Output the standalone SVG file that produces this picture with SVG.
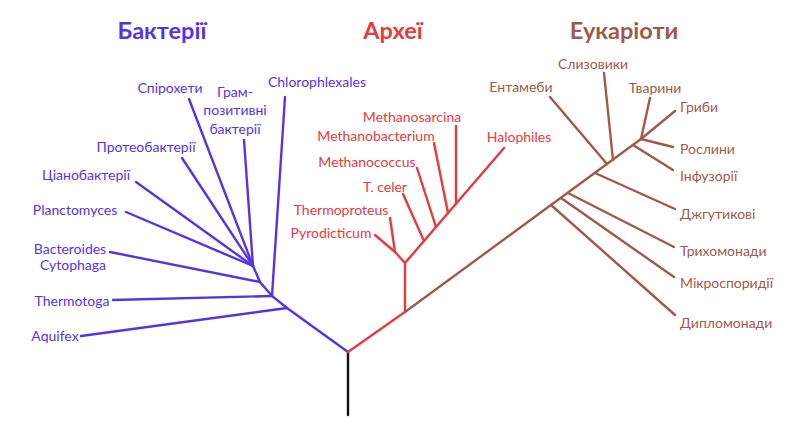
<svg xmlns="http://www.w3.org/2000/svg" width="800" height="427" viewBox="0 0 800 427">
<style>
text{font-family:Lato,"Open Sans","Liberation Sans",sans-serif;font-size:14px}
.t{font-size:23.5px;font-weight:bold;text-anchor:middle}
.b{fill:#5534e8}.r{fill:#e63a3f}.e{fill:#a0594b}
.m{text-anchor:middle}.s{text-anchor:start}
line,polyline{fill:none;stroke-width:2.4;stroke-linecap:round}
.lb line,.lb polyline{stroke:#5534e8}
.lr line,.lr polyline{stroke:#e63a3f}
.le line{stroke:#a0594b}
</style>
<rect width="800" height="427" fill="#fff"/>
<g id="connectors">
<line x1="348" y1="352" x2="348" y2="415" stroke="#111" stroke-width="2.4"/>
<g class="lb">
<polyline points="348,352 287,308 272,296 260,282 253,266"/>
<line x1="81" y1="336" x2="287" y2="308"/>
<line x1="113" y1="300" x2="272" y2="296"/>
<line x1="285" y1="97" x2="272" y2="296"/>
<line x1="110" y1="252" x2="260" y2="282"/>
<line x1="126" y1="212" x2="253" y2="266"/>
<line x1="136" y1="182" x2="253" y2="266"/>
<line x1="182" y1="158" x2="253" y2="266"/>
<line x1="189" y1="99" x2="253" y2="266"/>
<line x1="244" y1="140" x2="253" y2="266"/>
</g>
<g class="lr">
<polyline points="348,352 405,312 405,263 504,148"/>
<line x1="405" y1="263" x2="395" y2="252"/>
<line x1="390" y1="218" x2="395" y2="252"/>
<line x1="375" y1="235" x2="395" y2="252"/>
<line x1="403" y1="194" x2="424" y2="241"/>
<line x1="417" y1="168" x2="436" y2="227"/>
<line x1="434" y1="143" x2="448" y2="213"/>
<line x1="456" y1="126" x2="456" y2="204"/>
</g>
<g class="le">
<line x1="405" y1="312" x2="641" y2="139"/>
<line x1="650" y1="98" x2="641" y2="139"/>
<line x1="675" y1="111" x2="641" y2="139"/>
<line x1="641" y1="139" x2="673" y2="147"/>
<line x1="673" y1="170" x2="633" y2="145"/>
<line x1="604" y1="73" x2="613" y2="160"/>
<line x1="550" y1="97" x2="607" y2="164"/>
<line x1="675" y1="209" x2="595" y2="173"/>
<line x1="674" y1="247" x2="568" y2="193"/>
<line x1="674" y1="277" x2="561" y2="198"/>
<line x1="675" y1="315" x2="551" y2="205"/>
</g>
</g>
<g id="titles">
<text class="t b" x="162" y="39">Бактерії</text>
<text class="t r" x="393" y="39">Археї</text>
<text class="t e" x="624" y="39">Еукаріоти</text>
</g>
<g id="bacteria" class="b">
<text id="spirochetes" class="b m" x="170" y="93">Спірохети</text>
<g id="grampos"><text class="b m" x="235" y="97">Грам-</text><text class="b m" x="235" y="115">позитивні</text><text class="b m" x="235" y="134">бактерії</text></g>
<text id="chloro" class="b m" x="317" y="87">Chlorophlexales</text>
<text id="proteo" class="b m" x="146" y="152">Протеобактерії</text>
<text id="cyano" class="b m" x="86" y="180">Ціанобактерії</text>
<text id="plancto" class="b m" x="75" y="215">Planctomyces</text>
<g id="bacteroides"><text class="b m" x="70" y="254">Bacteroides</text><text class="b m" x="73" y="270">Cytophaga</text></g>
<text id="thermotoga" class="b m" x="72" y="306">Thermotoga</text>
<text id="aquifex" class="b m" x="55" y="341">Aquifex</text>
</g>
<g id="archaea">
<text id="msarcina" class="r m" x="412" y="122">Methanosarcina</text>
<text id="mbacterium" class="r m" x="376" y="141">Methanobacterium</text>
<text id="mcoccus" class="r m" x="367" y="167">Methanococcus</text>
<text id="tceler" class="r m" x="385" y="192">T. celer</text>
<text id="thermoproteus" class="r m" x="341" y="215">Thermoproteus</text>
<text id="pyrodicticum" class="r m" x="331" y="238">Pyrodicticum</text>
<text id="halophiles" class="r m" x="519" y="142">Halophiles</text>
</g>
<g id="eukaryotes">
<text id="entamoeba" class="e m" x="521" y="92">Ентамеби</text>
<text id="slime" class="e m" x="593" y="69">Слизовики</text>
<text id="animals" class="e m" x="655" y="93">Тварини</text>
<text id="fungi" class="e s" x="680" y="112">Гриби</text>
<text id="plants" class="e s" x="680" y="154">Рослини</text>
<text id="ciliates" class="e s" x="680" y="181">Інфузорії</text>
<text id="flagellates" class="e s" x="680" y="219">Джгутикові</text>
<text id="trichomonads" class="e s" x="680" y="256">Трихомонади</text>
<text id="microsporidia" class="e s" x="680" y="288">Мікроспоридії</text>
<text id="diplomonads" class="e s" x="680" y="328">Дипломонади</text>
</g>
</svg>
